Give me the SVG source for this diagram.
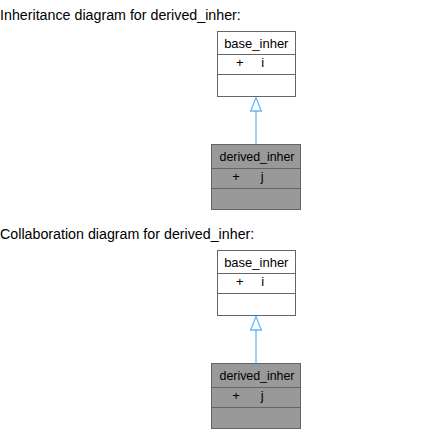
<svg xmlns="http://www.w3.org/2000/svg" width="427" height="438" viewBox="0 0 427 438">
<defs>
<style>
.title{font-family:"Liberation Sans",Arial,sans-serif;font-size:14.25px;fill:#000}
.lbl{font-family:"Liberation Sans",Arial,sans-serif;font-size:13px;fill:#000;text-anchor:middle}
.base{fill:#ffffff;stroke:#666666;stroke-width:1}
.derived{fill:#999999;stroke:#666666;stroke-width:1}
.sep{stroke:#666666;stroke-width:1}
.edge{stroke:#63b8ff;stroke-width:1.3;fill:none}
.head{stroke:#63b8ff;stroke-width:1.3;fill:#ffffff}
</style>
</defs>
<rect x="0" y="0" width="427" height="438" fill="#ffffff"/>
<text class="title" x="0" y="20">Inheritance diagram for derived_inher:</text>
<text class="title" x="0" y="239">Collaboration diagram for derived_inher:</text>

<g id="connectors">
<line class="edge" x1="256" y1="111" x2="256" y2="144"/>
<polygon class="head" points="256,97.5 250.7,111 261.3,111"/>
<line class="edge" x1="256" y1="330" x2="256" y2="363"/>
<polygon class="head" points="256,316.5 250.7,330 261.3,330"/>
</g>

<g id="inh_base_inher">
<rect class="base" x="217.5" y="31.5" width="78" height="65"/>
<line class="sep" x1="217.5" y1="54.5" x2="295.5" y2="54.5"/>
<line class="sep" x1="217.5" y1="74.5" x2="295.5" y2="74.5"/>
<text class="lbl" x="256.3" y="48">base_inher</text>
<text class="lbl" x="239.7" y="67">+</text>
<text class="lbl" x="262.8" y="67">i</text>
</g>

<g id="inh_derived_inher">
<rect class="derived" x="211.5" y="144.5" width="89" height="65"/>
<line class="sep" x1="211.5" y1="168.5" x2="300.5" y2="168.5"/>
<line class="sep" x1="211.5" y1="188.5" x2="300.5" y2="188.5"/>
<text class="lbl" x="257" y="161" textLength="75" lengthAdjust="spacingAndGlyphs">derived_inher</text>
<text class="lbl" x="236" y="181">+</text>
<text class="lbl" x="262.3" y="181">j</text>
</g>

<g id="col_base_inher">
<rect class="base" x="217.5" y="250.5" width="78" height="65"/>
<line class="sep" x1="217.5" y1="273.5" x2="295.5" y2="273.5"/>
<line class="sep" x1="217.5" y1="293.5" x2="295.5" y2="293.5"/>
<text class="lbl" x="256.3" y="267">base_inher</text>
<text class="lbl" x="239.7" y="286">+</text>
<text class="lbl" x="262.8" y="286">i</text>
</g>

<g id="col_derived_inher">
<rect class="derived" x="211.5" y="363.5" width="89" height="65"/>
<line class="sep" x1="211.5" y1="387.5" x2="300.5" y2="387.5"/>
<line class="sep" x1="211.5" y1="407.5" x2="300.5" y2="407.5"/>
<text class="lbl" x="257" y="380" textLength="75" lengthAdjust="spacingAndGlyphs">derived_inher</text>
<text class="lbl" x="236" y="400">+</text>
<text class="lbl" x="262.3" y="400">j</text>
</g>
</svg>
